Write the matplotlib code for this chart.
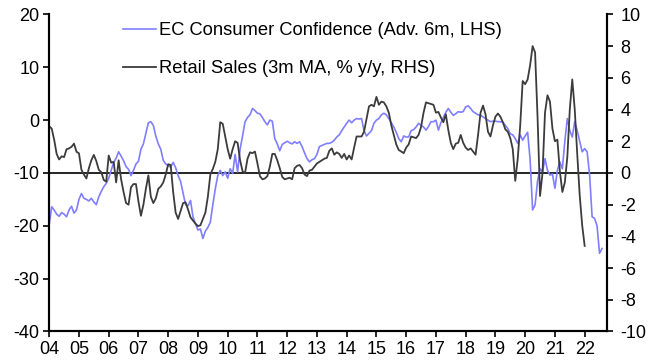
import numpy as np
import matplotlib
matplotlib.use("Agg")
import matplotlib.pyplot as plt

plt.rcParams['font.family'] = ['Liberation Sans', 'DejaVu Sans']
plt.rcParams['axes.unicode_minus'] = False

# Monthly data, starting Jan 2004
start_year = 2004
# EC consumer confidence, advanced 6 months (LHS)
confidence = [
    -19.8, -16.4, -17.0, -17.8, -18.2, -17.5, -17.8, -18.3, -17.0, -16.3, -17.6, -17.0,
    -15.0, -13.9, -14.8, -15.0, -15.3, -14.8, -15.5, -16.0, -14.5, -13.5, -12.6, -12.0,
    -11.0, -9.5, -8.0, -7.2, -6.0, -6.8, -7.7, -8.8, -9.3, -10.5, -9.5, -8.3,
    -7.8, -5.5, -4.5, -2.5, -0.5, -0.3, -1.0, -3.0, -4.5, -5.5, -7.6, -8.3,
    -8.6, -8.9, -8.0, -9.0, -10.5, -11.6, -13.8, -16.0, -16.2, -15.2, -18.3, -19.6,
    -20.8, -20.6, -22.4, -21.0, -20.3, -19.3, -16.0, -13.0, -10.5, -9.5, -10.5, -9.8,
    -11.0, -9.2, -10.1, -6.5, -9.8, -5.5, -3.0, -0.3, 0.5, 1.0, 2.2, 1.8,
    1.3, 1.2, 0.5, -0.3, -0.9, 0.0, -0.2, -3.5, -4.5, -5.8, -4.6, -4.3,
    -4.0, -4.3, -4.5, -4.1, -4.4, -4.1, -5.0, -6.2, -7.3, -7.9, -7.5, -7.3,
    -6.5, -5.0, -4.8, -4.6, -4.4, -4.4, -4.2, -3.8, -3.2, -2.8, -2.0, -1.3,
    -0.6, 0.0, -0.5, 0.0, 0.3, 0.2, 0.3, -2.0, -3.0, -2.5, -2.0, -0.6,
    0.0, 0.3, 1.0, 1.3, 1.0, 0.3, -0.5, -1.3, -2.3, -3.5, -4.1, -3.0,
    -3.2, -3.2, -2.0, -1.8, -1.3, -0.6, -1.0, -1.3, -1.9, -1.2, -0.3, -0.3,
    0.0, -1.9, -0.5, 0.5, 1.5, 2.2, 1.5, 0.9, 1.2, 1.6, 1.5, 1.6,
    2.5, 2.7, 2.2, 1.6, 1.3, 1.0, 0.9, 0.6, 0.3, 0.0, -0.3, -0.2,
    -0.2, -0.3, -0.3, -0.4, -1.0, -1.6, -2.6, -2.8, -3.5, -4.4, -2.8, -3.8,
    -3.0, -2.3, -7.5, -17.0, -16.0, -11.5, -9.2, -9.8, -7.3, -9.5, -10.4, -10.2,
    -12.9, -9.5, -7.9, -9.2, -4.0, 0.3, -2.0, -3.2, -0.3, -2.0, -4.0, -6.0,
    -5.4, -6.0, -10.4, -18.3, -18.6, -20.0, -25.2, -24.3,
]
# Retail sales, 3m MA, % y/y (RHS)
retail = [
    2.95, 2.8, 2.1, 1.2, 0.85, 1.05, 1.0, 1.5, 1.55, 1.65, 1.85, 1.34,
    1.24, 0.2, -0.1, -0.35, 0.3, 0.8, 1.14, 0.75, 0.2, 0.05, -0.44, -0.55,
    1.1, 0.65, 0.7, -0.6, 0.8, -0.4, -1.2, -1.9, -2.0, -0.9, -0.7, -0.7,
    -1.8, -2.7, -2.0, -1.0, -0.15, -1.5, -1.9, -1.6, -1.0, -0.85, -0.6, -0.1,
    0.55, 0.5, -1.2, -2.5, -2.9, -2.4, -1.9, -1.85, -2.3, -2.8, -3.0, -3.2,
    -3.35, -3.3, -2.9, -2.5, -1.5, -0.1, 0.25, 0.7, 1.5, 3.2, 3.1, 2.3,
    1.5, 0.9, 1.5, 2.0, 1.9, 0.8, 0.1, 0.0, 0.9, 1.3, 1.25, 1.35,
    0.6, -0.2, -0.4, -0.35, -0.2, 0.4, 1.2, 1.2, 0.8, 0.3, -0.25, -0.4,
    -0.35, -0.3, -0.4, 0.3, 0.45, 0.5, 0.3, -0.1, -0.2, 0.15, 0.2, 0.4,
    0.6, 0.7, 0.8, 0.9, 0.95, 1.4, 1.55, 1.15, 1.3, 1.2, 0.95, 1.2,
    0.85, 1.1, 0.85, 1.6, 2.3, 2.3, 2.3, 2.6, 3.4, 4.2, 4.3, 4.2,
    4.8, 4.3, 4.5, 4.45, 4.2, 3.8, 3.0, 2.4, 1.8, 1.45, 1.35, 1.25,
    1.6, 1.8, 2.3, 2.25, 2.2, 2.4, 2.9, 3.8, 4.45, 4.4, 4.35, 4.3,
    3.8, 3.85, 3.5, 3.2, 3.7, 2.7, 1.9, 1.5, 1.85, 1.9, 2.4, 1.9,
    1.6, 1.45, 1.55, 1.35, 1.15, 2.4, 3.8, 4.25, 3.7, 2.6, 2.3, 3.0,
    3.55, 3.75, 3.55, 3.2, 2.75, 2.6, 2.2, 1.5, -0.5, 0.9, 3.0, 5.8,
    5.6, 5.9, 6.8, 8.0, 7.6, 3.5, -1.45, 0.0, 3.8, 4.9, 4.5, 2.8,
    2.0, 2.1, 0.1, -1.2, -0.6, 1.0, 4.0, 5.9, 4.0, 1.2, -1.4, -3.3,
    -4.6,
]
year_labels = ['04', '05', '06', '07', '08', '09', '10', '11', '12', '13',
               '14', '15', '16', '17', '18', '19', '20', '21', '22']

conf_x = start_year + np.arange(len(confidence)) / 12
retail_x = start_year + np.arange(len(retail)) / 12
year_ticks = start_year + np.arange(len(year_labels))

fig = plt.figure(figsize=(6.57, 3.64), dpi=100)
ax = fig.add_axes([0.0749, 0.0893, 0.8485, 0.8711])
ax2 = ax.twinx()

l1, = ax.plot(conf_x, confidence, color='#7f7fff', lw=1.2,
              label='EC Consumer Confidence (Adv. 6m, LHS)')
l2, = ax2.plot(retail_x, retail, color='#3c3c3c', lw=1.3,
               label='Retail Sales (3m MA, % y/y, RHS)')
ax.axhline(-10, color='black', lw=1.2, zorder=1)

ax.set_xlim(2004, 2022.74)
ax.set_ylim(-40, 20)
ax2.set_ylim(-10, 10)
ax.set_yticks(np.arange(-40, 21, 10))
ax2.set_yticks(np.arange(-10, 11, 2))
ax.set_xticks(year_ticks)
ax.set_xticklabels(year_labels)

for a in (ax, ax2):
    a.spines['top'].set_visible(False)
    for s in ('left', 'right', 'bottom'):
        a.spines[s].set_linewidth(1.5)
    a.tick_params(direction='out', length=4, width=1.2, labelsize=13, pad=3)
ax2.tick_params(axis='y', pad=6)

ax2.legend(handles=[l1, l2], loc='upper left', bbox_to_anchor=(0.132, 0.975),
           frameon=False, fontsize=13.2, handlelength=1.8, handletextpad=0.2,
           labelspacing=1.15, borderpad=0, borderaxespad=0)

fig.savefig('out.png', dpi=100)
